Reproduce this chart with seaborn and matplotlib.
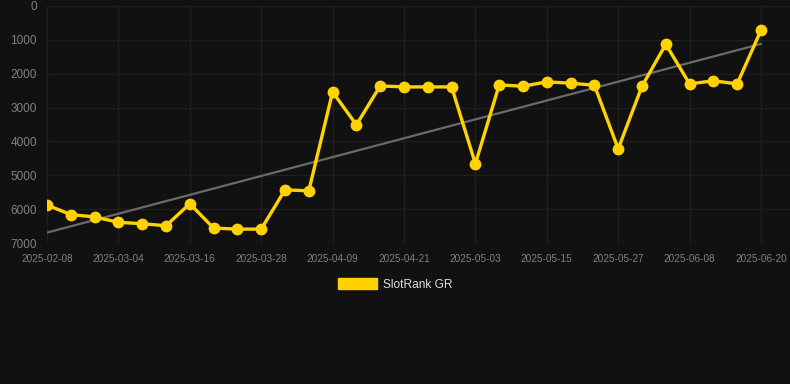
import numpy as np
import pandas as pd
import matplotlib
matplotlib.use("Agg")
import matplotlib.pyplot as plt
import seaborn as sns
from matplotlib.patches import Patch

dates = ["2025-02-08", "2025-02-16", "2025-02-24", "2025-03-04", "2025-03-08", "2025-03-12",
         "2025-03-16", "2025-03-20", "2025-03-24", "2025-03-28", "2025-04-01", "2025-04-05",
         "2025-04-09", "2025-04-13", "2025-04-17", "2025-04-21", "2025-04-25", "2025-04-29",
         "2025-05-03", "2025-05-07", "2025-05-11", "2025-05-15", "2025-05-19", "2025-05-23",
         "2025-05-27", "2025-05-31", "2025-06-04", "2025-06-08", "2025-06-12", "2025-06-16",
         "2025-06-20"]
ranks = [5880, 6160, 6230, 6390, 6430, 6490, 5840, 6560, 6590, 6590, 5430, 5460,
         2540, 3510, 2360, 2390, 2390, 2390, 4660, 2330, 2370, 2240, 2280, 2340,
         4220, 2370, 1130, 2300, 2210, 2300, 715]
series_name = "SlotRank GR"

df = pd.DataFrame({"idx": np.arange(len(dates)), "date": dates, "rank": ranks})

bg = "#111111"
sns.set_theme(style="dark")
plt.rcParams["font.family"] = ["Liberation Sans", "DejaVu Sans"]
fig = plt.figure(figsize=(7.9, 3.84), dpi=100, facecolor=bg)
ax = fig.add_axes([47/790, 1 - 243/384, (790 - 47)/790, (243 - 6)/384])
ax.set_facecolor(bg)

sns.regplot(data=df, x="idx", y="rank", scatter=False, ci=None, truncate=True,
            line_kws=dict(color="#6a6a6a", lw=1.6, zorder=2), ax=ax)
sns.lineplot(data=df, x="idx", y="rank", color="#FFD200", lw=2.4, marker="o",
             markersize=8.5, markeredgewidth=0, ax=ax, zorder=3, legend=False)

ax.set_xlim(0, 30 + 29/23.8)
ax.set_ylim(7000, 0)
ax.set_yticks(np.arange(0, 7001, 1000))
ax.set_yticklabels([str(v) for v in range(0, 7001, 1000)])
ax.set_xticks(df["idx"][::3])
ax.set_xticklabels(df["date"][::3])
ax.set_xlabel("")
ax.set_ylabel("")
ax.grid(True, color="#1f1f1f", lw=1.0)
for s in ax.spines.values():
    s.set_visible(False)
ax.tick_params(axis="y", colors="#1f1f1f", labelcolor="#808080", labelsize=8.5, length=7.2, pad=0, width=1.0)
ax.tick_params(axis="x", colors="#1f1f1f", labelcolor="#808080", labelsize=7.2, length=5, pad=3.2, width=1.0)

fig.legend(handles=[Patch(color="#FFD200", label=series_name)], loc="center",
           bbox_to_anchor=(395/790, 1 - 284.5/384), frameon=False, handlelength=3.3,
           handleheight=1.0, fontsize=8.6, labelcolor="#dddddd", handletextpad=0.5)

fig.savefig("out.png", dpi=100, facecolor=bg)
